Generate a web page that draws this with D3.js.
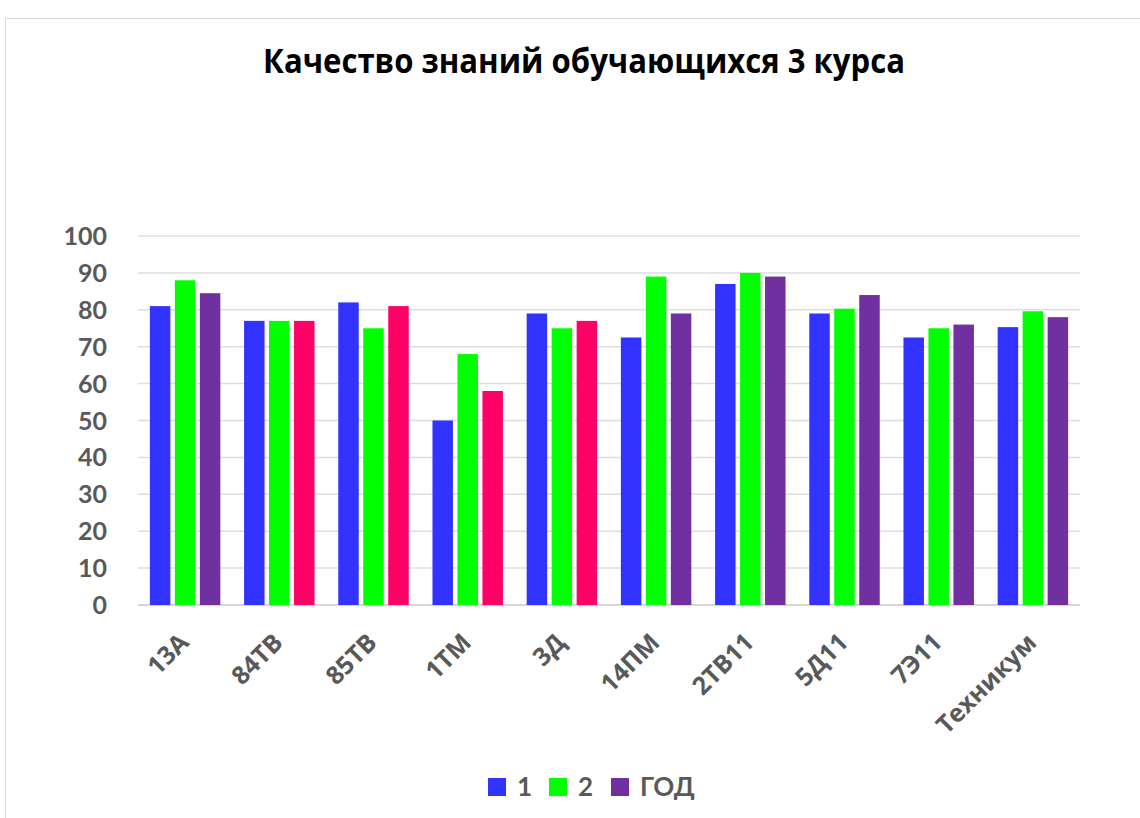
<!DOCTYPE html>
<html>
<head>
<meta charset="utf-8">
<script src="https://cdn.jsdelivr.net/npm/d3@7"></script>
<style>
  body { margin: 0; background: #fff; }
  svg { font-family: Lato, "Open Sans", sans-serif; }
</style>
</head>
<body>
<svg id="chart"></svg>
<script>
const categories = ["13А", "84ТВ", "85ТВ", "1ТМ", "3Д", "14ПМ", "2ТВ11", "5Д11", "7Э11", "Техникум"];
const seriesNames = ["1", "2", "ГОД"];
const values1 = [81, 77, 82, 50, 79, 72.5, 87, 79, 72.5, 75.3];
const values2 = [88, 77, 75, 68, 75, 89, 90, 80.3, 75, 79.6];
const valuesYear = [84.5, 77, 81, 58, 77, 79, 89, 84, 76, 78];
// groups whose "ГОД" bar is drawn in the accent colour
const accentGroups = ["84ТВ", "85ТВ", "1ТМ", "3Д"];
const yTicks = [0, 10, 20, 30, 40, 50, 60, 70, 80, 90, 100];

const colors = {"1": "#3333ff", "2": "#00ff00", "ГОД": "#7030a0"};
const accent = "#ff0066";

const svg_size = {width: 1140, height: 818};
const plot = {left: 138, right: 1080, top: 236, bottom: 605};

const svg = d3.select("#chart")
    .attr("width", svg_size.width)
    .attr("height", svg_size.height);

// chart area frame
svg.append("rect")
    .attr("x", 5.5).attr("y", 18.5)
    .attr("width", 1200).attr("height", 900)
    .attr("fill", "none")
    .attr("stroke", "#d9d9d9");

svg.append("text")
    .attr("x", 584).attr("y", 73)
    .attr("text-anchor", "middle")
    .style("font-family", "'Open Sans', sans-serif")
    .attr("font-weight", "bold")
    .attr("font-size", 34)
    .attr("fill", "#000")
    .attr("textLength", 642)
    .attr("lengthAdjust", "spacingAndGlyphs")
    .text("Качество знаний обучающихся 3 курса");

const data = categories.map((c, i) => ({
    cat: c,
    vals: [values1[i], values2[i], valuesYear[i]]
}));

const x0 = d3.scaleBand().domain(categories)
    .range([plot.left, plot.right])
    .paddingInner(0.252).paddingOuter(0.126);
const x1 = d3.scaleBand().domain(seriesNames)
    .range([0, x0.bandwidth()])
    .paddingInner(0.18);
const y = d3.scaleLinear().domain([0, 100]).range([plot.bottom, plot.top]);

// gridlines
svg.append("g")
    .selectAll("line")
    .data(yTicks)
    .join("line")
    .attr("x1", plot.left).attr("x2", plot.right)
    .attr("y1", d => y(d)).attr("y2", d => y(d))
    .attr("stroke", d => d === 0 ? "#c8c8c8" : "#dedede")
    .attr("stroke-width", 1.5);

// y labels
svg.append("g")
    .selectAll("text")
    .data(yTicks)
    .join("text")
    .attr("x", 107).attr("y", d => y(d))
    .attr("dy", "0.36em")
    .attr("text-anchor", "end")
    .attr("font-weight", "bold")
    .attr("font-size", 25)
    .attr("fill", "#595959")
    .text(d => d);

// bars
const groups = svg.append("g")
    .selectAll("g")
    .data(data)
    .join("g")
    .attr("transform", d => `translate(${x0(d.cat)},0)`);

groups.selectAll("rect")
    .data(d => d.vals.map((v, j) => ({cat: d.cat, s: seriesNames[j], v: v})))
    .join("rect")
    .attr("x", d => x1(d.s))
    .attr("width", x1.bandwidth())
    .attr("y", d => y(d.v))
    .attr("height", d => y(0) - y(d.v))
    .attr("fill", d => (d.s === "ГОД" && accentGroups.includes(d.cat)) ? accent : colors[d.s]);

// x labels
svg.append("g")
    .selectAll("text")
    .data(categories)
    .join("text")
    .attr("transform", d => `translate(${x0(d) + x0.bandwidth() / 2 + 5},${plot.bottom + 39}) rotate(-45)`)
    .attr("text-anchor", "end")
    .style("font-family", "'Open Sans', sans-serif")
    .attr("font-weight", "bold")
    .attr("font-size", 25)
    .attr("fill", "#595959")
    .text(d => d);

// legend
const legendX = [488, 549, 611];
const legend = svg.append("g")
    .selectAll("g")
    .data(seriesNames)
    .join("g")
    .attr("transform", (d, i) => `translate(${legendX[i]},778)`);
legend.append("rect")
    .attr("width", 18).attr("height", 18)
    .attr("fill", d => colors[d]);
legend.append("text")
    .attr("x", 29).attr("y", 9)
    .attr("dy", "0.36em")
    .attr("font-weight", "bold")
    .attr("font-size", 26)
    .attr("fill", "#595959")
    .text(d => d);
</script>
</body>
</html>
